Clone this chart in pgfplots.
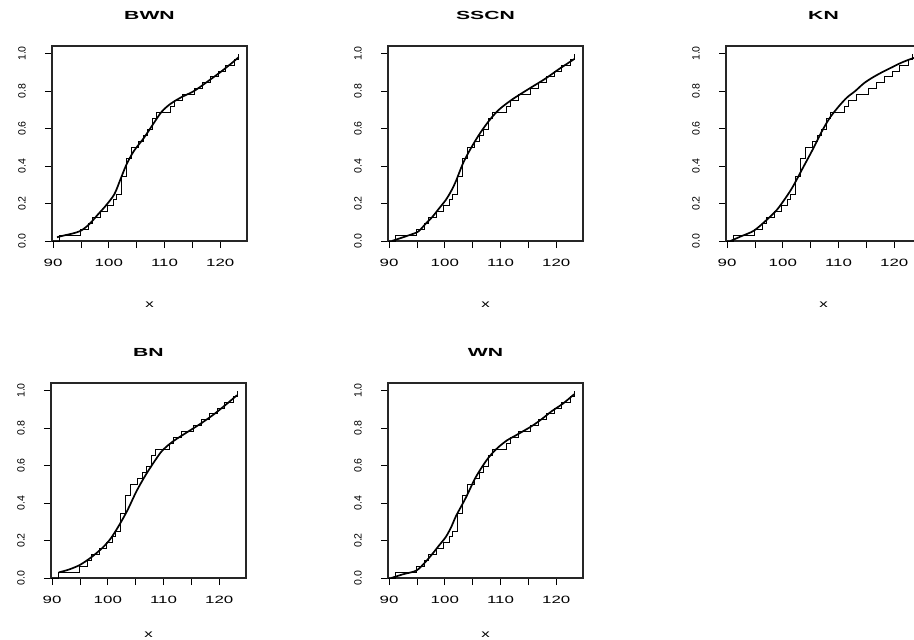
\documentclass[border=0pt]{standalone}
\usepackage{fontspec}
\setmainfont{Liberation Sans}
\usepackage{graphicx}
\usepackage{pgfplots}
\usepackage{pgfplotstable}
\pgfplotsset{compat=1.18}

\pgfplotstableread{
x F
89.8 0
91.2 0.031
95.0 0.0625
96.3 0.094
97.0 0.125
98.5 0.156
99.8 0.1875
100.8 0.219
101.3 0.25
102.2 0.344
103.2 0.4375
104.0 0.5
105.3 0.531
106.3 0.5625
107.0 0.594
107.8 0.656
108.6 0.6875
111.0 0.719
111.8 0.75
113.3 0.781
115.3 0.8125
116.8 0.844
118.2 0.875
119.6 0.906
121.0 0.9375
122.6 0.969
123.3 1.0
}\ecdf

\pgfplotstableread{
x F
90.7 0.02
92 0.03
93.5 0.04
95 0.055
96.5 0.09
98 0.14
99.5 0.19
101 0.25
102.1 0.33
103.2 0.41
104.5 0.48
106.3 0.55
108.1 0.63
109.5 0.69
111 0.73
112.9 0.765
115.3 0.80
117.7 0.85
120 0.9
121.7 0.94
123.3 0.98
}\bwn

\pgfplotstableread{
x F
90.5 0.0
92 0.015
93.5 0.03
95.2 0.05
96.5 0.09
97.8 0.13
99 0.175
100.2 0.22
101.2 0.27
102 0.32
103.2 0.41
104.4 0.48
106.1 0.565
107.9 0.64
109.7 0.70
112.1 0.755
115 0.81
118 0.865
120.4 0.915
123.2 0.97
}\sscn

\pgfplotstableread{
x F
90.6 0.0
92.5 0.025
94.8 0.055
97 0.11
98.9 0.165
100.5 0.23
101.8 0.29
103.6 0.39
105.4 0.49
107.1 0.59
108.5 0.66
110.1 0.72
111.5 0.765
113 0.80
114.5 0.84
116 0.87
117.8 0.9
119.5 0.925
121.2 0.95
122.9 0.97
124.5 0.985
}\kn

\pgfplotstableread{
x F
91.2 0.03
93 0.045
95 0.07
97 0.11
99 0.16
100.5 0.21
102 0.28
103.5 0.36
105.1 0.46
106.6 0.54
108.1 0.61
109.5 0.67
110.5 0.70
112 0.735
114.1 0.775
116.5 0.82
118.9 0.87
121 0.92
123.2 0.975
}\bn

\pgfplotstableread{
x F
90.4 0.0
92.5 0.02
94.9 0.04
96.5 0.085
97.8 0.13
99 0.175
100.2 0.22
101.2 0.275
102 0.33
103.8 0.43
105.5 0.535
107.3 0.62
108.5 0.665
109.7 0.70
111.2 0.735
112.7 0.76
115.6 0.81
117.5 0.85
119.2 0.89
121.2 0.93
123.2 0.98
}\wn

\newcommand{\wx}[1]{\scalebox{1.6}[1]{#1}}
\newcommand{\wt}[1]{\scalebox{1.8}[1]{\bfseries #1}}
\newcommand{\ry}[1]{\rotatebox{90}{#1}}

\pgfplotsset{rpanel/.style={
  scale only axis, width=195bp, height=195bp,
  xmin=89.8, xmax=124.8, ymin=0, ymax=1.04,
  xtick={90,100,110,120}, minor xtick={95,105,115},
  xticklabels={\wx{90},\wx{100},\wx{110},\wx{120}},
  ytick={0,0.2,0.4,0.6,0.8,1.0},
  yticklabels={\ry{0.0},\ry{0.2},\ry{0.4},\ry{0.6},\ry{0.8},\ry{1.0}},
  xtick pos=bottom, ytick pos=left, tick align=outside,
  major tick length=7bp, minor tick length=7bp,
  axis line style={line width=1.2bp, black!85},
  every tick/.style={black, line width=0.9bp},
  every minor tick/.style={black, line width=0.9bp},
  ticklabel style={font=\fontsize{10.6}{12}\selectfont},
  xticklabel style={anchor=north, inner sep=0pt},
  xticklabel shift=11bp,
  yticklabel style={anchor=east, inner sep=0pt, xshift=-19bp},
  title style={font=\fontsize{11.8}{13}\selectfont, at={(0.5,1)}, anchor=center, yshift=25bp},
  xlabel={\wx{x}},
  xlabel style={font=\fontsize{10.6}{12}\selectfont, at={(0.5,0)}, anchor=center},
  clip=true,
}}

\begin{document}
\begin{tikzpicture}
\useasboundingbox (0bp,0bp) rectangle (914bp,-640bp);

\begin{axis}[rpanel, at={(52bp,-46bp)}, anchor=north west, title={\wt{BWN}}, xlabel style={yshift=-64bp}]
\addplot[const plot, black, line width=1bp] table {\ecdf};
\addplot[smooth, black, line width=1.7bp] table {\bwn};
\end{axis}

\begin{axis}[rpanel, at={(388bp,-46bp)}, anchor=north west, title={\wt{SSCN}}, xlabel style={yshift=-64bp}]
\addplot[const plot, black, line width=1bp] table {\ecdf};
\addplot[smooth, black, line width=1.7bp] table {\sscn};
\end{axis}

\begin{axis}[rpanel, at={(726bp,-46bp)}, anchor=north west, title={\wt{KN}}, xlabel style={yshift=-64bp}]
\addplot[const plot, black, line width=1bp] table {\ecdf};
\addplot[smooth, black, line width=1.7bp] table {\kn};
\end{axis}

\begin{axis}[rpanel, at={(51bp,-383bp)}, anchor=north west, title={\wt{BN}}, xlabel style={yshift=-57bp}]
\addplot[const plot, black, line width=1bp] table {\ecdf};
\addplot[smooth, black, line width=1.7bp] table {\bn};
\end{axis}

\begin{axis}[rpanel, at={(388bp,-383bp)}, anchor=north west, title={\wt{WN}}, xlabel style={yshift=-57bp}]
\addplot[const plot, black, line width=1bp] table {\ecdf};
\addplot[smooth, black, line width=1.7bp] table {\wn};
\end{axis}
\end{tikzpicture}
\end{document}
